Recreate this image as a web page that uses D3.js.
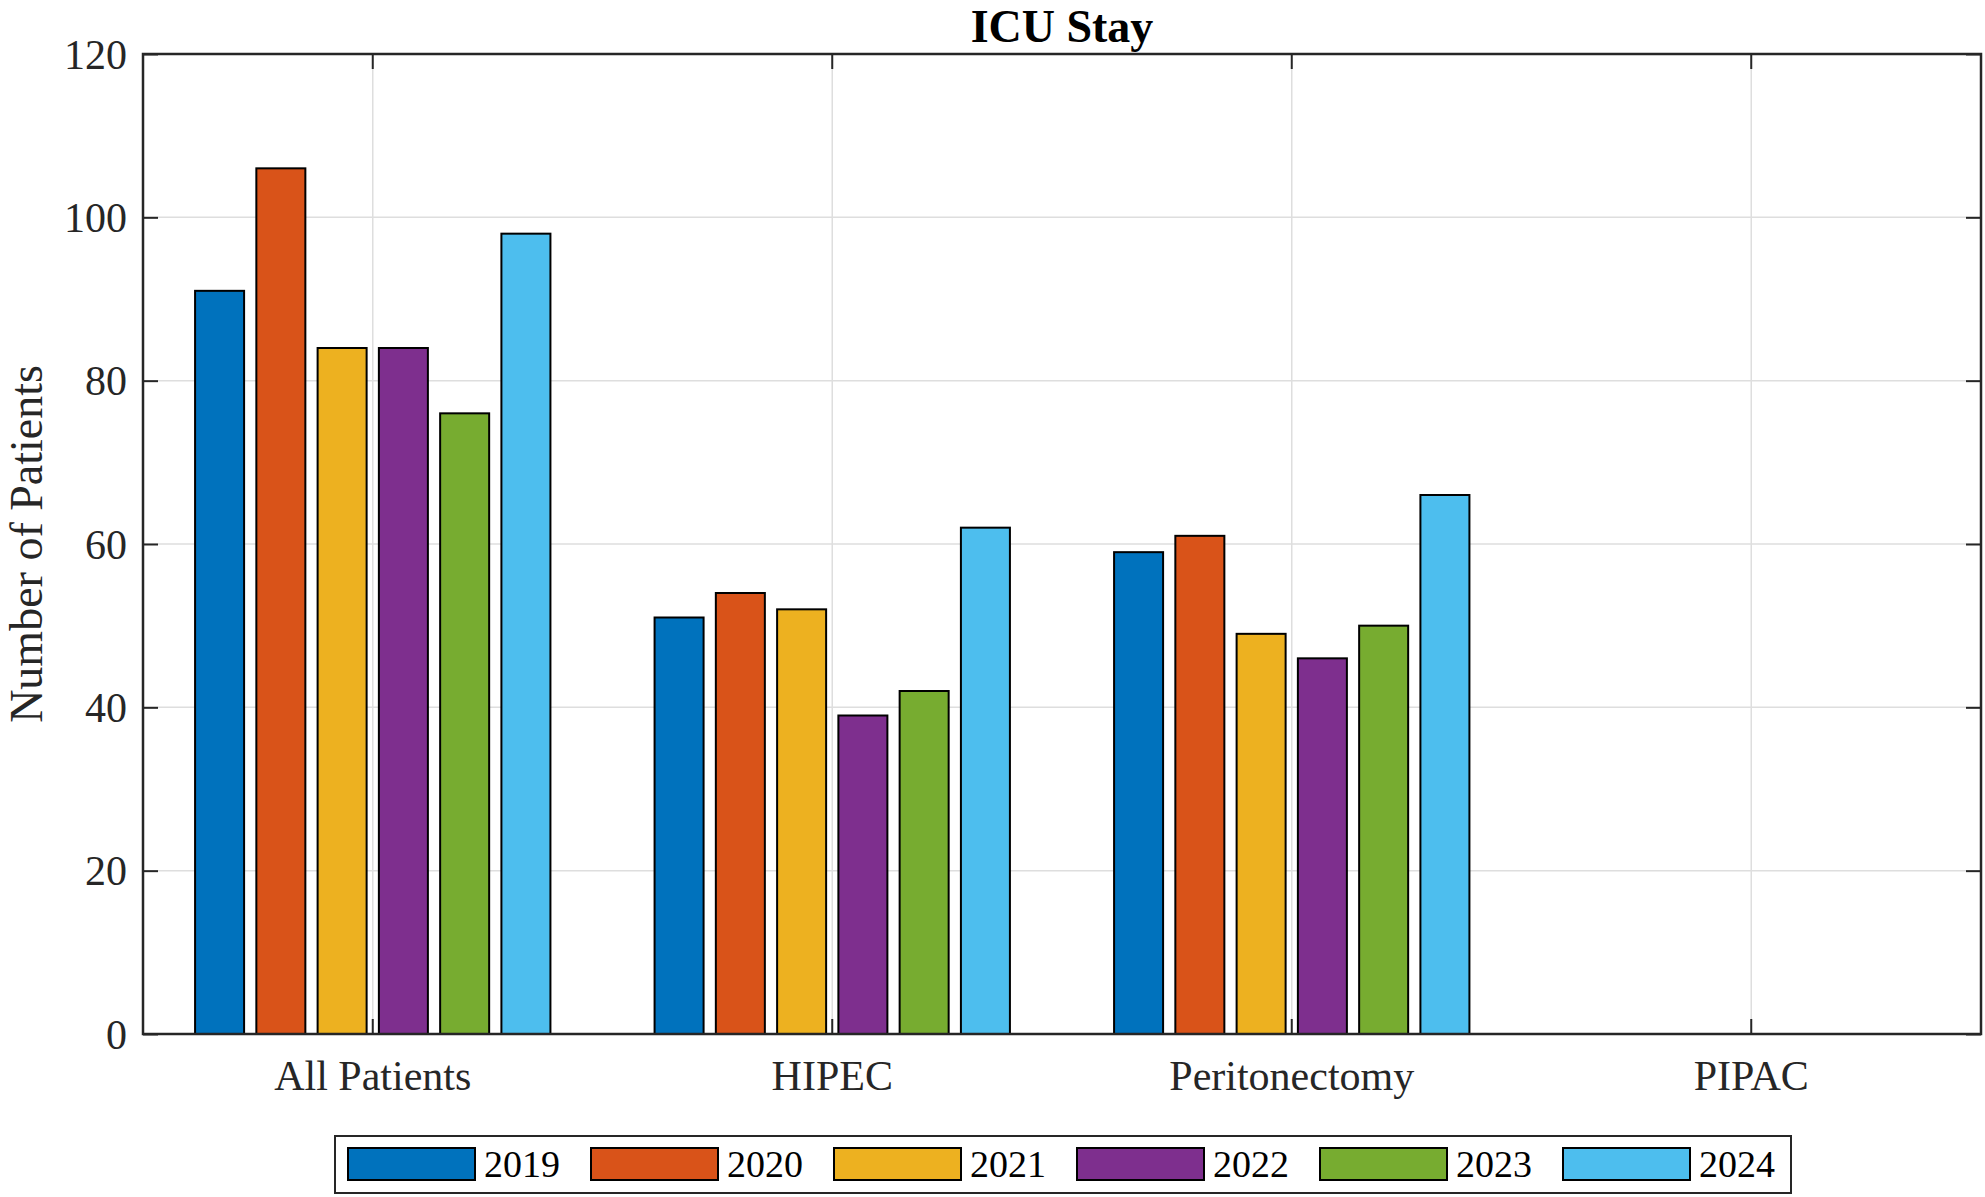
<!DOCTYPE html>
<html>
<head>
<meta charset="utf-8">
<script src="https://cdn.jsdelivr.net/npm/d3@7"></script>
<style>
  html, body { margin: 0; padding: 0; background: #fff; }
  svg { display: block; font-family: "Liberation Serif", "Times New Roman", serif; }
</style>
</head>
<body>
<svg id="chart" width="1985" height="1197"></svg>
<script>
const categories = ["All Patients", "HIPEC", "Peritonectomy", "PIPAC"];
const years = ["2019", "2020", "2021", "2022", "2023", "2024"];
const v2019 = [91, 51, 59, 0];
const v2020 = [106, 54, 61, 0];
const v2021 = [84, 52, 49, 0];
const v2022 = [84, 39, 46, 0];
const v2023 = [76, 42, 50, 0];
const v2024 = [98, 62, 66, 0];
const seriesValues = [v2019, v2020, v2021, v2022, v2023, v2024];
const colors = ["#0072BD", "#D95319", "#EDB120", "#7E2F8E", "#77AC30", "#4DBEEE"];
const yTicks = [0, 20, 40, 60, 80, 100, 120];
const titleText = "ICU Stay";
const yLabelText = "Number of Patients";

const svg = d3.select("#chart");
const m = { left: 143, right: 1981, top: 54, bottom: 1034 };
const axisColor = "#262626";

// x in "category index" space, MATLAB-like: limits [0.5, n+0.5]
const x = d3.scaleLinear().domain([0.5, categories.length + 0.5]).range([m.left, m.right]);
const y = d3.scaleLinear().domain([0, 120]).range([m.bottom, m.top]);

const nS = years.length;
const groupWidth = 0.8;
const slot = groupWidth / nS;
const barW = slot * 0.8;

// gridlines
const grid = svg.append("g");
grid.selectAll("line.gy").data(yTicks.slice(1, -1)).enter().append("line")
  .attr("x1", m.left).attr("x2", m.right)
  .attr("y1", d => y(d)).attr("y2", d => y(d))
  .attr("stroke", "#dedede").attr("stroke-width", 1.5);
grid.selectAll("line.gx").data(categories).enter().append("line")
  .attr("x1", (d, i) => x(i + 1)).attr("x2", (d, i) => x(i + 1))
  .attr("y1", m.top).attr("y2", m.bottom)
  .attr("stroke", "#dedede").attr("stroke-width", 1.5);

// bars
const bars = svg.append("g");
seriesValues.forEach((vals, s) => {
  bars.selectAll(null).data(vals).enter().append("rect")
    .attr("x", (d, i) => x(i + 1 - groupWidth / 2 + slot * (s + 0.5) - barW / 2))
    .attr("width", x(1 + barW) - x(1))
    .attr("y", d => y(d))
    .attr("height", d => y(0) - y(d))
    .attr("fill", colors[s])
    .attr("stroke", d => d > 0 ? "#000" : "none")
    .attr("stroke-width", 2);
});

// axes box with inward ticks
const tickLen = 15;
const axG = svg.append("g");
const yAxisL = d3.axisLeft(y).tickValues(yTicks).tickSize(-tickLen).tickPadding(16);
const gL = axG.append("g").attr("transform", `translate(${m.left},0)`).call(yAxisL);
gL.select(".domain").remove();
gL.selectAll(".tick line").attr("stroke", axisColor).attr("stroke-width", 2);
gL.selectAll(".tick text").attr("font-size", 42).attr("fill", axisColor)
  .attr("font-family", "Liberation Serif").attr("dy", "0.34em");

const yAxisR = d3.axisRight(y).tickValues(yTicks).tickSize(-tickLen).tickFormat("");
const gR = axG.append("g").attr("transform", `translate(${m.right},0)`).call(yAxisR);
gR.select(".domain").remove();
gR.selectAll(".tick line").attr("stroke", axisColor).attr("stroke-width", 2);

const xb = d3.scaleBand().domain(categories).range([x(0.5), x(categories.length + 0.5)]).padding(0);
const xAxisB = d3.axisBottom(xb).tickSize(-tickLen).tickPadding(24);
const gB = axG.append("g").attr("transform", `translate(0,${m.bottom})`).call(xAxisB);
gB.select(".domain").remove();
gB.selectAll(".tick line").attr("stroke", axisColor).attr("stroke-width", 2);
gB.selectAll(".tick text").attr("font-size", 42).attr("fill", axisColor)
  .attr("font-family", "Liberation Serif").attr("dy", "0.75em");

const xAxisT = d3.axisTop(xb).tickSize(-tickLen).tickFormat("");
const gT = axG.append("g").attr("transform", `translate(0,${m.top})`).call(xAxisT);
gT.select(".domain").remove();
gT.selectAll(".tick line").attr("stroke", axisColor).attr("stroke-width", 2);

axG.append("rect")
  .attr("x", m.left).attr("y", m.top)
  .attr("width", m.right - m.left).attr("height", m.bottom - m.top)
  .attr("fill", "none").attr("stroke", axisColor).attr("stroke-width", 2.5);

// title
svg.append("text")
  .attr("x", (m.left + m.right) / 2).attr("y", 42)
  .attr("text-anchor", "middle").attr("font-size", 46).attr("font-weight", "bold")
  .attr("fill", "#000").text(titleText);

// y label
svg.append("text")
  .attr("transform", `translate(42,${(m.top + m.bottom) / 2}) rotate(-90)`)
  .attr("text-anchor", "middle").attr("font-size", 46).attr("fill", axisColor)
  .text(yLabelText);

// legend
const leg = svg.append("g");
const legX = 335, legY = 1136, legW = 1456, legH = 57;
leg.append("rect").attr("x", legX).attr("y", legY).attr("width", legW).attr("height", legH)
  .attr("fill", "#fff").attr("stroke", axisColor).attr("stroke-width", 2);
const entryStep = 243;
years.forEach((yr, i) => {
  const ex = 348 + i * entryStep;
  leg.append("rect").attr("x", ex).attr("y", 1148).attr("width", 127).attr("height", 32)
    .attr("fill", colors[i]).attr("stroke", "#000").attr("stroke-width", 2);
  leg.append("text").attr("x", ex + 136).attr("y", 1177)
    .attr("font-size", 38).attr("fill", "#000").text(yr);
});
</script>
</body>
</html>
